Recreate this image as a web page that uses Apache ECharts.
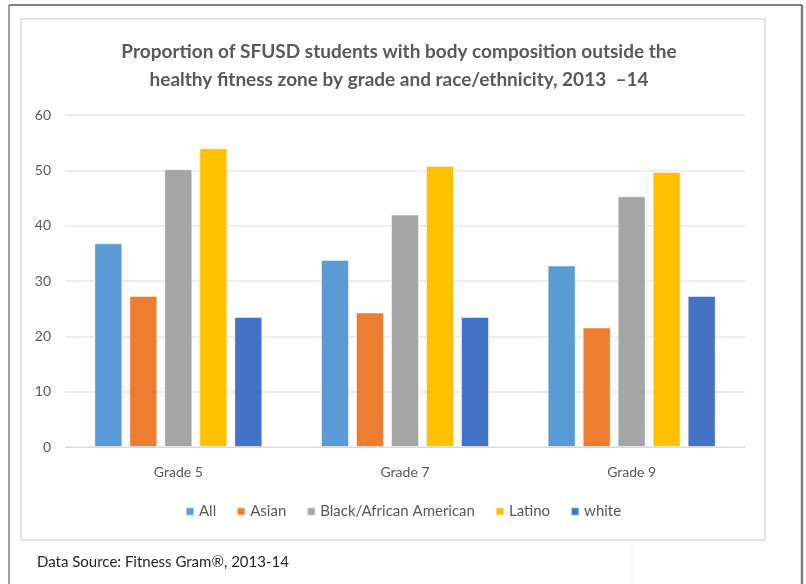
<!DOCTYPE html>
<html>
<head>
<meta charset="utf-8">
<script src="https://cdn.jsdelivr.net/npm/echarts@6/dist/echarts.min.js"></script>
<style>
html,body{margin:0;padding:0;background:#fff;}
#c{width:806px;height:584px;}
</style>
</head>
<body>
<div id="c"></div>
<script>
const categories = ['Grade 5', 'Grade 7', 'Grade 9'];
const seriesNames = ['All', 'Asian', 'Black/African American', 'Latino', 'white'];
const allValues = [36.8, 33.8, 32.8];
const asianValues = [27.3, 24.3, 21.6];
const blackValues = [50.2, 42.0, 45.3];
const latinoValues = [54.0, 50.8, 49.7];
const whiteValues = [23.5, 23.5, 27.3];
const yTicks = [0, 10, 20, 30, 40, 50, 60];
const colors = ['#5B9BD5', '#ED7D31', '#A5A5A5', '#FFC000', '#4472C4'];
const valueSets = [allValues, asianValues, blackValues, latinoValues, whiteValues];

const font = 'Lato, "Open Sans", sans-serif';
const chart = echarts.init(document.getElementById('c'));
chart.setOption({
  animation: false,
  backgroundColor: '#fff',
  title: {
    text: 'Proportion of SFUSD students with body composition outside the\nhealthy fitness zone by grade and race/ethnicity, 2013  \u201314',
    left: 394, top: 33, textAlign: 'center',
    textStyle: { fontFamily: font, fontSize: 19, fontWeight: 'bold', color: '#595959', lineHeight: 28 }
  },
  legend: {
    data: seriesNames, bottom: 60, left: 180,
    itemWidth: 8, itemHeight: 8, itemGap: 20, icon: 'rect',
    textStyle: { fontFamily: font, fontSize: 15, color: '#595959' }
  },
  grid: { left: 65, right: 61, top: 115, bottom: 137 },
  xAxis: {
    type: 'category', data: categories,
    axisLine: { lineStyle: { color: '#d9d9d9', width: 1 } },
    axisTick: { show: false },
    axisLabel: { fontFamily: font, fontSize: 14, color: '#595959', margin: 18 }
  },
  yAxis: {
    type: 'value', min: yTicks[0], max: yTicks[yTicks.length - 1], interval: 10,
    axisLine: { show: false }, axisTick: { show: false },
    axisLabel: { fontFamily: font, fontSize: 14, color: '#595959', margin: 14 },
    splitLine: { lineStyle: { color: '#e8e8e8', width: 1.5 } }
  },
  series: seriesNames.map((n, i) => ({
    name: n, type: 'bar', data: valueSets[i], barWidth: 28, barGap: '25%',
    itemStyle: { color: colors[i], borderColor: 'rgba(255,255,255,0.5)', borderWidth: 1 }
  })),
  graphic: [
    { type: 'rect', shape: { x: 21, y: 19, width: 744, height: 521 }, style: { fill: 'none', stroke: '#e6e6e6', lineWidth: 2 }, z: -1 },
    { type: 'line', shape: { x1: 9, y1: 5, x2: 802, y2: 5 }, style: { stroke: '#808080', lineWidth: 2 } },
    { type: 'line', shape: { x1: 9, y1: 5, x2: 9, y2: 584 }, style: { stroke: '#808080', lineWidth: 1.5 } },
    { type: 'line', shape: { x1: 802, y1: 5, x2: 802, y2: 584 }, style: { stroke: '#808080', lineWidth: 2.5 } },
    { type: 'line', shape: { x1: 632, y1: 543, x2: 632, y2: 584 }, style: { stroke: '#f2f2f2', lineWidth: 1 } },
    { type: 'text', left: 37, top: 555, style: { text: 'Data Source: Fitness Gram\u00ae, 2013-14', fontFamily: font, fontSize: 15, fill: '#262626' } }
  ]
});
</script>
</body>
</html>
